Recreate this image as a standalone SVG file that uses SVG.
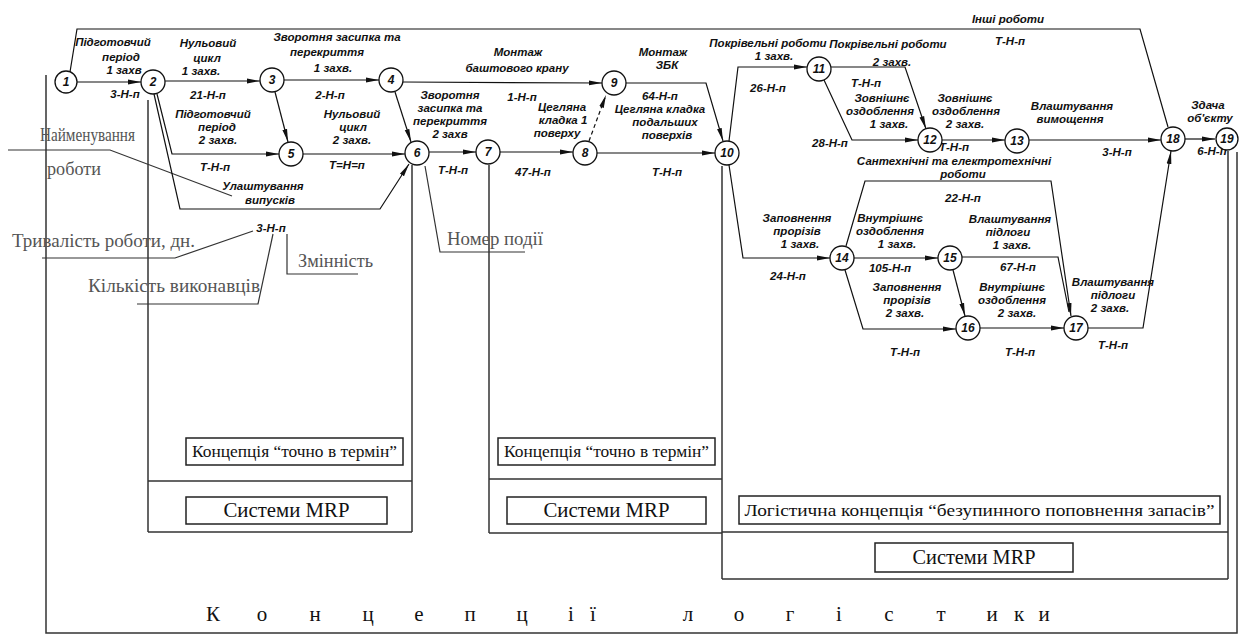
<svg xmlns="http://www.w3.org/2000/svg" width="1239" height="635" viewBox="0 0 1239 635">
<style>
.bg{fill:#fff}
.ln{fill:none;stroke:#111;stroke-width:1.2}
.dash{fill:none;stroke:#111;stroke-width:1.2;stroke-dasharray:4 3}
.fr{fill:none;stroke:#333;stroke-width:1.5}
.co{fill:none;stroke:#333;stroke-width:1.2}
.nd{fill:#fff;stroke:#111;stroke-width:1.3}
.nt{font-family:"Liberation Sans",Arial,sans-serif;font-size:12px;font-style:italic;font-weight:bold;text-anchor:middle;fill:#111}
.h{font-family:"Liberation Sans",Arial,sans-serif;font-size:11.5px;font-style:italic;font-weight:bold;text-anchor:middle;fill:#111}
.g{font-family:"Liberation Serif","Times New Roman",serif;font-size:18px;fill:#555}
.s{font-family:"Liberation Serif","Times New Roman",serif;fill:#111;text-anchor:middle}
.bx{fill:#fff;stroke:#222;stroke-width:1.5}
</style>
<defs>
<marker id="ar" markerWidth="14" markerHeight="8" refX="13" refY="4" orient="auto" markerUnits="userSpaceOnUse"><path d="M0,1.6 L13,4 L0,6.4 z" fill="#111"/></marker>
</defs>
<rect class="bg" x="0" y="0" width="1239" height="635"/>

<g id="frames">
<path class="fr" d="M46,75 V633 H1237 V152"/>
<path class="fr" d="M148,100 V532 M412,165 V532 M148,481 H412 M148,532 H412"/>
<path class="fr" d="M489,165 V533 M722,166 V579 M489,479 H722 M489,533 H722"/>
<path class="fr" d="M1228,151 V579 M722,532 H1228 M722,579 H1228"/>
<rect class="bx" x="186" y="438" width="217" height="27"/>
<rect class="bx" x="186" y="497" width="201" height="27"/>
<rect class="bx" x="498" y="438" width="217" height="27"/>
<rect class="bx" x="507" y="497" width="199" height="27"/>
<rect class="bx" x="739" y="496" width="481" height="28"/>
<rect class="bx" x="875" y="543" width="198" height="29"/>
<text class="s" x="294.5" y="457" font-size="16" textLength="205" lengthAdjust="spacingAndGlyphs">Концепція “точно в термін”</text>
<text class="s" x="606.5" y="457" font-size="16" textLength="205" lengthAdjust="spacingAndGlyphs">Концепція “точно в термін”</text>
<text class="s" x="286.5" y="517" font-size="20" textLength="126" lengthAdjust="spacingAndGlyphs">Системи MRP</text>
<text class="s" x="606.5" y="517" font-size="20" textLength="126" lengthAdjust="spacingAndGlyphs">Системи MRP</text>
<text class="s" x="979.5" y="516" font-size="17" textLength="470" lengthAdjust="spacingAndGlyphs">Логістична концепція “безупинного поповнення запасів”</text>
<text class="s" x="974" y="564" font-size="20" textLength="123" lengthAdjust="spacingAndGlyphs">Системи MRP</text>
<text class="s" y="621" font-size="21"><tspan x="213">К</tspan><tspan x="262">о</tspan><tspan x="315">н</tspan><tspan x="368">ц</tspan><tspan x="419">е</tspan><tspan x="470">п</tspan><tspan x="522">ц</tspan><tspan x="571">і</tspan><tspan x="593">ї</tspan><tspan x="688">л</tspan><tspan x="739">о</tspan><tspan x="790">г</tspan><tspan x="839">і</tspan><tspan x="889">с</tspan><tspan x="941">т</tspan><tspan x="992">и</tspan><tspan x="1019">к</tspan><tspan x="1044">и</tspan></text>
</g>

<g id="callouts">
<path class="co" d="M8,150 H110 L232,196"/>
<path class="co" d="M42,258 H175 L253,231"/>
<path class="co" d="M137,304 H258 L273,234"/>
<path class="co" d="M287,234 V274 H358"/>
<path class="co" d="M425,166 L440,252 H525"/>
<text class="g" x="40" y="141" textLength="95" lengthAdjust="spacingAndGlyphs">Найменування</text>
<text class="g" x="47" y="175" textLength="54" lengthAdjust="spacingAndGlyphs">роботи</text>
<text class="g" x="12" y="247" textLength="183" lengthAdjust="spacingAndGlyphs">Тривалість роботи, дн.</text>
<text class="g" x="88" y="292" textLength="172" lengthAdjust="spacingAndGlyphs">Кількість виконавців</text>
<text class="g" x="298" y="267" textLength="75" lengthAdjust="spacingAndGlyphs">Змінність</text>
<text class="g" x="447" y="245" font-size="20" textLength="96" lengthAdjust="spacingAndGlyphs">Номер події</text>
<text class="h" x="271" y="232">3-Н-п</text>
</g>

<g id="connectors">
<path class="ln" d="M70,72 L77,29 H1140 L1168,127"/>
<path class="ln" marker-end="url(#ar)" d="M77,82 H141"/>
<path class="ln" marker-end="url(#ar)" d="M165,81 H260"/>
<path class="ln" marker-end="url(#ar)" d="M284,80 H379"/>
<path class="ln" marker-end="url(#ar)" d="M157,94 L172,154 H279"/>
<path class="ln" marker-end="url(#ar)" d="M154,94 L180,209 H380 L409,164"/>
<path class="ln" marker-end="url(#ar)" d="M275,92 L288,142"/>
<path class="ln" marker-end="url(#ar)" d="M395,92 L411,142"/>
<path class="ln" marker-end="url(#ar)" d="M303,154 H405"/>
<path class="ln" marker-end="url(#ar)" d="M403,82 L602,83"/>
<path class="ln" marker-end="url(#ar)" d="M429,152 H476"/>
<path class="ln" marker-end="url(#ar)" d="M500,152 H573"/>
<path class="dash" marker-end="url(#ar)" d="M589,141 L606,95"/>
<path class="ln" marker-end="url(#ar)" d="M597,153 H715"/>
<path class="ln" marker-end="url(#ar)" d="M626,83 H706 L723,141"/>
<path class="ln" marker-end="url(#ar)" d="M729,141 L738,67 H807"/>
<path class="ln" marker-end="url(#ar)" d="M831,67 H905 L926,129"/>
<path class="ln" marker-end="url(#ar)" d="M824,80 L852,140 H918"/>
<path class="ln" marker-end="url(#ar)" d="M942,140 H1005"/>
<path class="ln" marker-end="url(#ar)" d="M1029,140 H1161"/>
<path class="ln" marker-end="url(#ar)" d="M1185,139 H1215"/>
<path class="ln" marker-end="url(#ar)" d="M729,165 L743,258 H830"/>
<path class="ln" marker-end="url(#ar)" d="M846,246 L865,181 H1051 L1071,316"/>
<path class="ln" marker-end="url(#ar)" d="M854,258 H938"/>
<path class="ln" d="M962,257 H1058 L1069,312"/>
<path class="ln" marker-end="url(#ar)" d="M953,270 L965,316"/>
<path class="ln" marker-end="url(#ar)" d="M845,270 L863,329 H956"/>
<path class="ln" marker-end="url(#ar)" d="M980,328 H1064"/>
<path class="ln" marker-end="url(#ar)" d="M1088,328 H1143 L1171,151"/>
</g>

<g id="labels">
<text class="h" x="113" y="46">Підготовчий</text><text class="h" x="121" y="61">період</text><text class="h" x="124" y="74">1 захв</text><text class="h" x="125" y="98">3-Н-п</text>
<text class="h" x="208" y="47">Нульовий</text><text class="h" x="207" y="62">цикл</text><text class="h" x="201" y="75">1 захв.</text><text class="h" x="208" y="99">21-Н-п</text>
<text class="h" x="337" y="41">Зворотня засипка та</text><text class="h" x="327" y="56">перекриття</text><text class="h" x="333" y="72">1 захв.</text><text class="h" x="330" y="99">2-Н-п</text>
<text class="h" x="213" y="118">Підготовчий</text><text class="h" x="217" y="131">період</text><text class="h" x="218" y="144">2 захв.</text><text class="h" x="215" y="171">Т-Н-п</text>
<text class="h" x="352" y="118">Нульовий</text><text class="h" x="353" y="131">цикл</text><text class="h" x="352" y="144">2 захв.</text><text class="h" x="347" y="169">Т=Н=п</text>
<text class="h" x="263" y="190">Улаштування</text><text class="h" x="270" y="204">випусків</text>
<text class="h" x="518" y="56">Монтаж</text><text class="h" x="517" y="72">баштового крану</text><text class="h" x="522" y="101">1-Н-п</text>
<text class="h" x="450" y="99">Зворотня</text><text class="h" x="450" y="112">засипка та</text><text class="h" x="450" y="125">перекриття</text><text class="h" x="450" y="138">2 захв</text><text class="h" x="453" y="174">Т-Н-п</text>
<text class="h" x="562" y="111">Цегляна</text><text class="h" x="563" y="124">кладка 1</text><text class="h" x="557" y="137">поверху</text><text class="h" x="533" y="176">47-Н-п</text>
<text class="h" x="663" y="56">Монтаж</text><text class="h" x="667" y="69">ЗБК</text><text class="h" x="660" y="100">64-Н-п</text>
<text class="h" x="660" y="113">Цегляна кладка</text><text class="h" x="665" y="126">подальших</text><text class="h" x="667" y="139">поверхів</text><text class="h" x="667" y="176">Т-Н-п</text>
<text class="h" x="768" y="47">Покрівельні роботи</text><text class="h" x="774" y="60">1 захв.</text><text class="h" x="768" y="92">26-Н-п</text>
<text class="h" x="888" y="48">Покрівельні роботи</text><text class="h" x="892" y="66">2 захв.</text><text class="h" x="866" y="87">Т-Н-п</text>
<text class="h" x="882" y="102">Зовнішнє</text><text class="h" x="880" y="115">оздоблення</text><text class="h" x="889" y="128">1 захв.</text><text class="h" x="830" y="147">28-Н-п</text>
<text class="h" x="965" y="102">Зовнішнє</text><text class="h" x="966" y="115">оздоблення</text><text class="h" x="965" y="128">2 захв.</text><text class="h" x="954" y="151">Т-Н-п</text>
<text class="h" x="954" y="165">Сантехнічні та електротехнічні</text><text class="h" x="963" y="178">роботи</text><text class="h" x="963" y="202">22-Н-п</text>
<text class="h" x="1072" y="110">Влаштування</text><text class="h" x="1070" y="123">вимощення</text><text class="h" x="1117" y="156">3-Н-п</text>
<text class="h" x="1208" y="109">Здача</text><text class="h" x="1210" y="122">об'єкту</text><text class="h" x="1212" y="155">6-Н-п</text>
<text class="h" x="1008" y="23">Інші роботи</text><text class="h" x="1010" y="45">Т-Н-п</text>
<text class="h" x="797" y="222">Заповнення</text><text class="h" x="797" y="235">прорізів</text><text class="h" x="800" y="248">1 захв.</text><text class="h" x="788" y="280">24-Н-п</text>
<text class="h" x="890" y="222">Внутрішнє</text><text class="h" x="890" y="235">оздоблення</text><text class="h" x="897" y="248">1 захв.</text><text class="h" x="890" y="272">105-Н-п</text>
<text class="h" x="1010" y="223">Влаштування</text><text class="h" x="1008" y="236">підлоги</text><text class="h" x="1012" y="249">1 захв.</text><text class="h" x="1018" y="271">67-Н-п</text>
<text class="h" x="907" y="291">Заповнення</text><text class="h" x="907" y="304">прорізів</text><text class="h" x="905" y="317">2 захв.</text><text class="h" x="905" y="356">Т-Н-п</text>
<text class="h" x="1012" y="291">Внутрішнє</text><text class="h" x="1012" y="304">оздоблення</text><text class="h" x="1017" y="317">2 захв.</text><text class="h" x="1020" y="356">Т-Н-п</text>
<text class="h" x="1113" y="286">Влаштування</text><text class="h" x="1113" y="299">підлоги</text><text class="h" x="1110" y="312">2 захв.</text><text class="h" x="1113" y="349">Т-Н-п</text>
</g>

<g id="n1"><circle class="nd" cx="66" cy="82" r="11"/><text class="nt" x="66" y="86">1</text></g>
<g id="n2"><circle class="nd" cx="153" cy="82" r="12"/><text class="nt" x="153" y="86">2</text></g>
<g id="n3"><circle class="nd" cx="272" cy="80" r="12"/><text class="nt" x="272" y="84">3</text></g>
<g id="n4"><circle class="nd" cx="391" cy="80" r="12"/><text class="nt" x="391" y="84">4</text></g>
<g id="n5"><circle class="nd" cx="291" cy="154" r="12"/><text class="nt" x="291" y="158">5</text></g>
<g id="n6"><circle class="nd" cx="417" cy="153" r="12"/><text class="nt" x="417" y="157">6</text></g>
<g id="n7"><circle class="nd" cx="488" cy="152" r="12"/><text class="nt" x="488" y="156">7</text></g>
<g id="n8"><circle class="nd" cx="585" cy="153" r="12"/><text class="nt" x="585" y="157">8</text></g>
<g id="n9"><circle class="nd" cx="614" cy="83" r="12"/><text class="nt" x="614" y="87">9</text></g>
<g id="n10"><circle class="nd" cx="727" cy="153" r="12"/><text class="nt" x="727" y="157">10</text></g>
<g id="n11"><circle class="nd" cx="819" cy="69" r="12"/><text class="nt" x="819" y="73">11</text></g>
<g id="n12"><circle class="nd" cx="930" cy="140" r="12"/><text class="nt" x="930" y="144">12</text></g>
<g id="n13"><circle class="nd" cx="1017" cy="141" r="12"/><text class="nt" x="1017" y="145">13</text></g>
<g id="n14"><circle class="nd" cx="842" cy="258" r="12"/><text class="nt" x="842" y="262">14</text></g>
<g id="n15"><circle class="nd" cx="950" cy="258" r="12"/><text class="nt" x="950" y="262">15</text></g>
<g id="n16"><circle class="nd" cx="968" cy="328" r="12"/><text class="nt" x="968" y="332">16</text></g>
<g id="n17"><circle class="nd" cx="1076" cy="328" r="12"/><text class="nt" x="1076" y="332">17</text></g>
<g id="n18"><circle class="nd" cx="1173" cy="139" r="12"/><text class="nt" x="1173" y="143">18</text></g>
<g id="n19"><circle class="nd" cx="1227" cy="139" r="11"/><text class="nt" x="1227" y="143">19</text></g>
</svg>
